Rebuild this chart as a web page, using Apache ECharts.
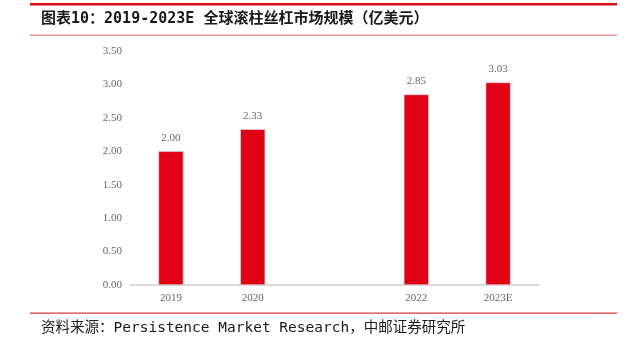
<!DOCTYPE html>
<html>
<head>
<meta charset="utf-8">
<script src="https://cdn.jsdelivr.net/npm/echarts@6/dist/echarts.min.js"></script>
<style>
html,body{margin:0;padding:0;background:#fff;}
#c{width:631px;height:354px;}
</style>
</head>
<body>
<div id="c"></div>
<script>
const titleText = '图表10：2019-2023E 全球滚柱丝杠市场规模（亿美元）';
const sourceText = '资料来源：Persistence Market Research，中邮证券研究所';
const categories = ['2019', '2020', '', '2022', '2023E'];
const values = [2.00, 2.33, null, 2.85, 3.03];
const yTicks = { min: 0, max: 3.5, interval: 0.5 };

const chart = echarts.init(document.getElementById('c'), null, { renderer: 'canvas' });
const serif = '"Liberation Serif", "Times New Roman", serif';
chart.setOption({
  animation: false,
  backgroundColor: '#ffffff',
  graphic: [
    { type: 'rect', shape: { x: 30, y: 3, width: 587, height: 2.5 }, style: { fill: '#d0121b' } },
    { type: 'rect', shape: { x: 30, y: 34.5, width: 587, height: 1.5 }, style: { fill: '#e89494' } },
    { type: 'text', left: 41, top: 12, style: { text: titleText, font: 'bold 15px "DejaVu Sans Mono", "Noto Sans CJK SC", monospace', fill: '#1a1a1a' } },
    { type: 'rect', shape: { x: 30, y: 312.5, width: 587, height: 1.2 }, style: { fill: '#d43a3a' } },
    { type: 'text', left: 41, top: 321, style: { text: sourceText, font: '14.5px "DejaVu Sans Mono", "Noto Sans CJK SC", monospace', fill: '#1a1a1a' } }
  ],
  grid: { left: 130, right: 92, top: 51, bottom: 69, containLabel: false },
  xAxis: {
    type: 'category',
    data: categories,
    axisLine: { show: true, lineStyle: { color: '#d0d0d0', width: 1.5 } },
    axisTick: { show: false },
    axisLabel: { color: '#666666', fontFamily: serif, fontSize: 11, margin: 8 }
  },
  yAxis: {
    type: 'value',
    min: yTicks.min, max: yTicks.max, interval: yTicks.interval,
    axisLine: { show: false },
    axisTick: { show: false },
    splitLine: { show: false },
    axisLabel: { color: '#666666', fontFamily: serif, fontSize: 11, margin: 8, formatter: v => v.toFixed(2) }
  },
  series: [{
    type: 'bar',
    data: values,
    barWidth: 25,
    itemStyle: { color: '#e10016', borderColor: '#dddddd', borderWidth: 0.6 },
    label: {
      show: true, position: 'top', distance: 8,
      color: '#666666', fontFamily: serif, fontSize: 11,
      formatter: p => (p.value == null ? '' : Number(p.value).toFixed(2))
    }
  }]
});
</script>
</body>
</html>
